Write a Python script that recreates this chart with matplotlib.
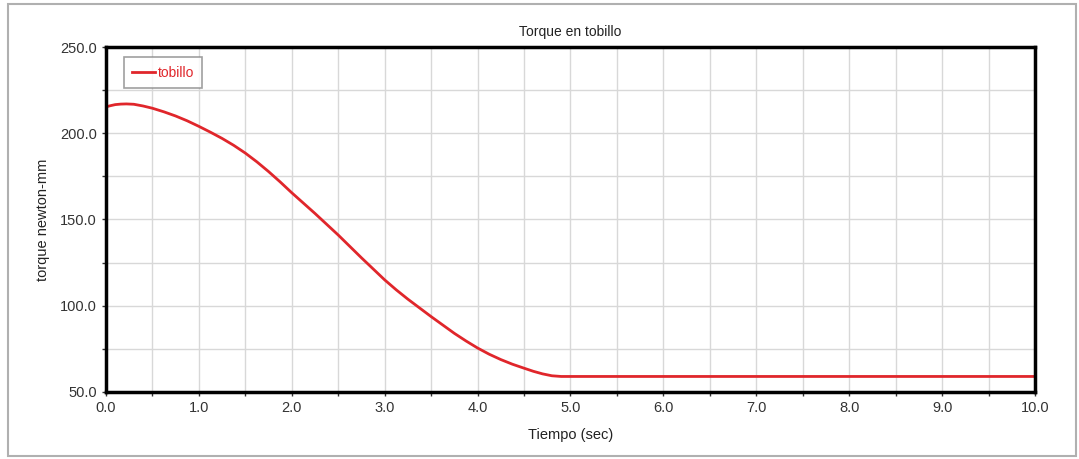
import matplotlib.pyplot as plt
from matplotlib.patches import Rectangle
import numpy as np

# Data
tiempo = [0.0, 0.05, 0.1, 0.16, 0.22, 0.3, 0.4, 0.5, 0.625, 0.75, 0.875, 1.0,
          1.125, 1.25, 1.375, 1.5, 1.625, 1.75, 1.875, 2.0, 2.25, 2.5,
          2.75, 3.0, 3.125, 3.25, 3.5, 3.75, 3.875, 4.0, 4.125, 4.25, 4.375,
          4.5, 4.6, 4.7, 4.8, 4.9, 6.0, 8.0, 10.0]
torque = [215.3, 216.0, 216.6, 216.9, 217.0, 216.8, 215.8, 214.5, 212.4, 210.0,
          207.2, 204.0, 200.6, 197.0, 193.0, 188.5, 183.4, 177.8, 171.8, 165.5,
          153.5, 141.0, 127.8, 115.0, 109.2, 103.8, 93.7, 84.0, 79.6, 75.5,
          71.9, 68.8, 66.1, 63.8, 62.0, 60.5, 59.4, 59.0, 59.0, 59.0, 59.0]
x_ticks = [0, 1, 2, 3, 4, 5, 6, 7, 8, 9, 10]
y_ticks = [50, 100, 150, 200, 250]

plt.rcParams['font.family'] = ['Liberation Sans Narrow', 'Liberation Sans', 'DejaVu Sans']

fig = plt.figure(figsize=(10.79, 4.59), dpi=100)
fig.patches.append(Rectangle((0.007, 0.006), 0.99, 0.986, transform=fig.transFigure,
                             fill=False, edgecolor='#b0b0b0', linewidth=1.5))

ax = fig.add_axes([0.0982, 0.146, 0.861, 0.7516])
ax.plot(tiempo, torque, color='#e0262b', linewidth=2, label='tobillo')

ax.set_xlim(0, 10)
ax.set_ylim(50, 250)
ax.set_xticks(x_ticks)
ax.set_xticklabels([f'{v:.1f}' for v in x_ticks])
ax.set_xticks(np.arange(0, 10.01, 0.5), minor=True)
ax.set_yticks(y_ticks)
ax.set_yticklabels([f'{v:.1f}' for v in y_ticks])
ax.set_yticks(np.arange(50, 250.1, 25), minor=True)
ax.grid(which='both', color='#d8d8d8', linewidth=1)
ax.set_axisbelow(True)
ax.tick_params(which='both', direction='out', length=3, width=1, labelsize=10.5,
               labelcolor='#333333', color='#333333')

for s in ax.spines.values():
    s.set_linewidth(2.5)
    s.set_color('black')

ax.set_title('Torque en tobillo', fontsize=10, color='#222222', pad=8)
ax.set_xlabel('Tiempo (sec)', fontsize=10.5, color='#222222', labelpad=9)
ax.set_ylabel('torque newton-mm', fontsize=10.5, color='#222222', labelpad=7)

leg = ax.legend(loc='upper left', bbox_to_anchor=(0.012, 0.99), fontsize=10,
                frameon=True, fancybox=False, handlelength=1.6, handletextpad=0.2,
                borderpad=0.6)
leg.get_frame().set_edgecolor('#888888')
leg.get_frame().set_linewidth(1.2)
for t in leg.get_texts():
    t.set_color('#e0262b')

fig.savefig('out.png', dpi=100)
